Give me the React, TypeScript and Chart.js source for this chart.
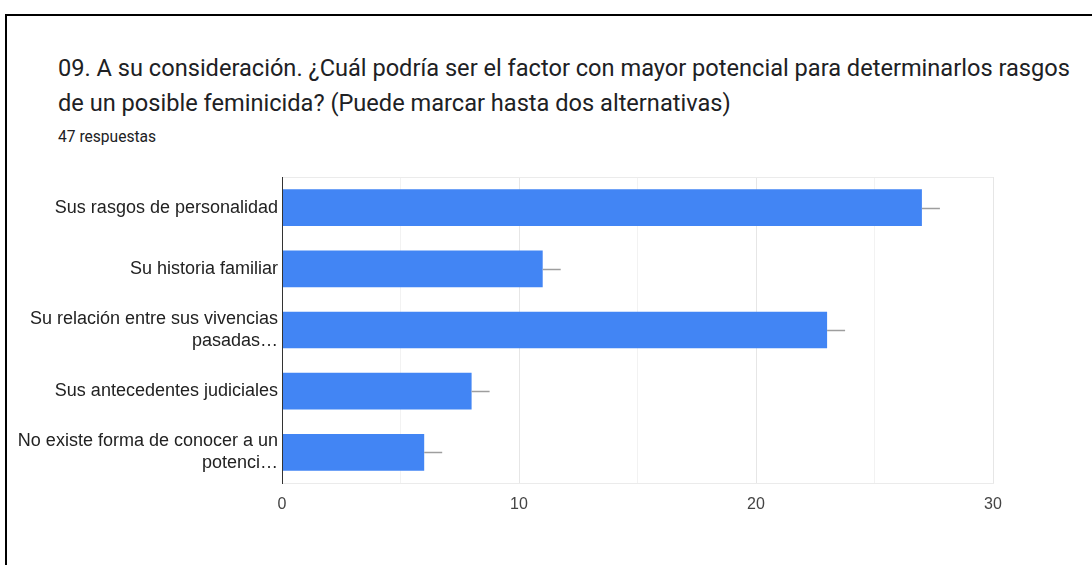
import React, { useEffect, useRef } from "react";
import { Chart, registerables } from "chart.js";

Chart.register(...registerables);

const titleLine1 = "09. A su consideración. ¿Cuál podría ser el factor con mayor potencial para determinarlos rasgos";
const titleLine2 = "de un posible feminicida? (Puede marcar hasta dos alternativas)";
const subtitle = "47 respuestas";

const categories: (string | string[])[] = [
  "Sus rasgos de personalidad",
  "Su historia familiar",
  ["Su relación entre sus vivencias", "pasadas…"],
  "Sus antecedentes judiciales",
  ["No existe forma de conocer a un", "potenci…"],
];
const values = [27, 11, 23, 8, 6];
const xTickLabels = [0, 10, 20, 30];
const xGridValues = [0, 5, 10, 15, 20, 25, 30];

const whiskerPlugin = {
  id: "whiskers",
  afterDatasetsDraw(chart: any) {
    const meta = chart.getDatasetMeta(0);
    const ctx = chart.ctx;
    ctx.save();
    ctx.strokeStyle = "#9e9e9e";
    ctx.lineWidth = 1.5;
    meta.data.forEach((bar: any) => {
      ctx.beginPath();
      ctx.moveTo(bar.x, Math.round(bar.y) + 0.5);
      ctx.lineTo(bar.x + 18, Math.round(bar.y) + 0.5);
      ctx.stroke();
    });
    ctx.restore();
  },
};

const frameLinePlugin = {
  id: "frameTop",
  afterDraw(chart: any) {
    const { ctx, chartArea } = chart;
    ctx.save();
    ctx.strokeStyle = "#ebebeb";
    ctx.lineWidth = 1;
    ctx.beginPath();
    ctx.moveTo(chartArea.left, chartArea.top + 0.5);
    ctx.lineTo(chartArea.right, chartArea.top + 0.5);
    ctx.stroke();
    ctx.strokeStyle = "#333333";
    ctx.beginPath();
    ctx.moveTo(chartArea.left + 0.5, chartArea.top);
    ctx.lineTo(chartArea.left + 0.5, chartArea.bottom + 1);
    ctx.stroke();
    ctx.restore();
  },
};

export default function App() {
  const ref = useRef<HTMLCanvasElement>(null);
  useEffect(() => {
    if (!ref.current) return;
    const chart = new Chart(ref.current, {
      type: "bar",
      data: {
        labels: categories,
        datasets: [
          {
            data: values,
            backgroundColor: "#4285f4",
            borderWidth: 0,
            categoryPercentage: 1,
            barPercentage: 0.6,
          },
        ],
      },
      options: {
        indexAxis: "y",
        animation: false,
        responsive: false,
        maintainAspectRatio: false,
        layout: { padding: { left: 0, right: 99, top: 17, bottom: 42 } },
        plugins: { legend: { display: false }, tooltip: { enabled: false } },
        scales: {
          x: {
            min: 0,
            max: 30,
            afterBuildTicks: (scale: any) => {
              scale.ticks = xGridValues.map((v) => ({ value: v }));
            },
            afterFit: (scale: any) => {
              scale.height = 40;
              scale.paddingLeft = 0;
              scale.paddingRight = 0;
            },
            grid: {
              color: (c: any) => (xTickLabels.includes(c.tick?.value) ? "#e6e6e6" : "#f2f2f2"),
              drawTicks: false,
              lineWidth: 1,
            },
            border: { display: true, color: "#ebebeb" },
            ticks: {
              padding: 12,
              color: "#444444",
              autoSkip: false,
              maxRotation: 0,
              callback: (v: any) => (xTickLabels.includes(Number(v)) ? String(v) : ""),
              font: { family: "'Liberation Sans', Arial, sans-serif", size: 16 },
            },
          },
          y: {
            afterFit: (scale: any) => {
              scale.width = 282;
              scale.paddingTop = 0;
              scale.paddingBottom = 0;
            },
            grid: { display: false, drawTicks: false },
            border: { display: true, color: "#333333" },
            ticks: {
              padding: 4,
              color: "#222222",
              autoSkip: false,
              font: { family: "'Liberation Sans', Arial, sans-serif", size: 18, lineHeight: 1.22 },
            },
          },
        },
      },
      plugins: [whiskerPlugin, frameLinePlugin],
    });
    return () => chart.destroy();
  }, []);

  return (
    <div style={{ position: "fixed", left: 0, top: 0, width: 1092, height: 565, background: "#fff", overflow: "hidden" }}>
      <div
        style={{
          position: "absolute",
          left: 5,
          top: 14,
          width: 2000,
          height: 2000,
          borderLeft: "2px solid #000",
          borderTop: "2px solid #000",
        }}
      />
      <div
        style={{
          position: "absolute",
          left: 58,
          top: 51,
          fontFamily: "Roboto, 'Noto Sans', sans-serif",
          fontSize: 23.6,
          lineHeight: "35px",
          color: "#202124",
          whiteSpace: "nowrap",
        }}
      >
        <div>{titleLine1}</div>
        <div>{titleLine2}</div>
      </div>
      <div
        style={{
          position: "absolute",
          left: 58,
          top: 127,
          fontFamily: "Roboto, 'Noto Sans', sans-serif",
          fontSize: 15.6,
          lineHeight: "20px",
          color: "#202124",
          whiteSpace: "nowrap",
        }}
      >
        {subtitle}
      </div>
      <canvas ref={ref} width={1092} height={405} style={{ position: "absolute", left: 0, top: 160, width: 1092, height: 405 }} />
    </div>
  );
}
